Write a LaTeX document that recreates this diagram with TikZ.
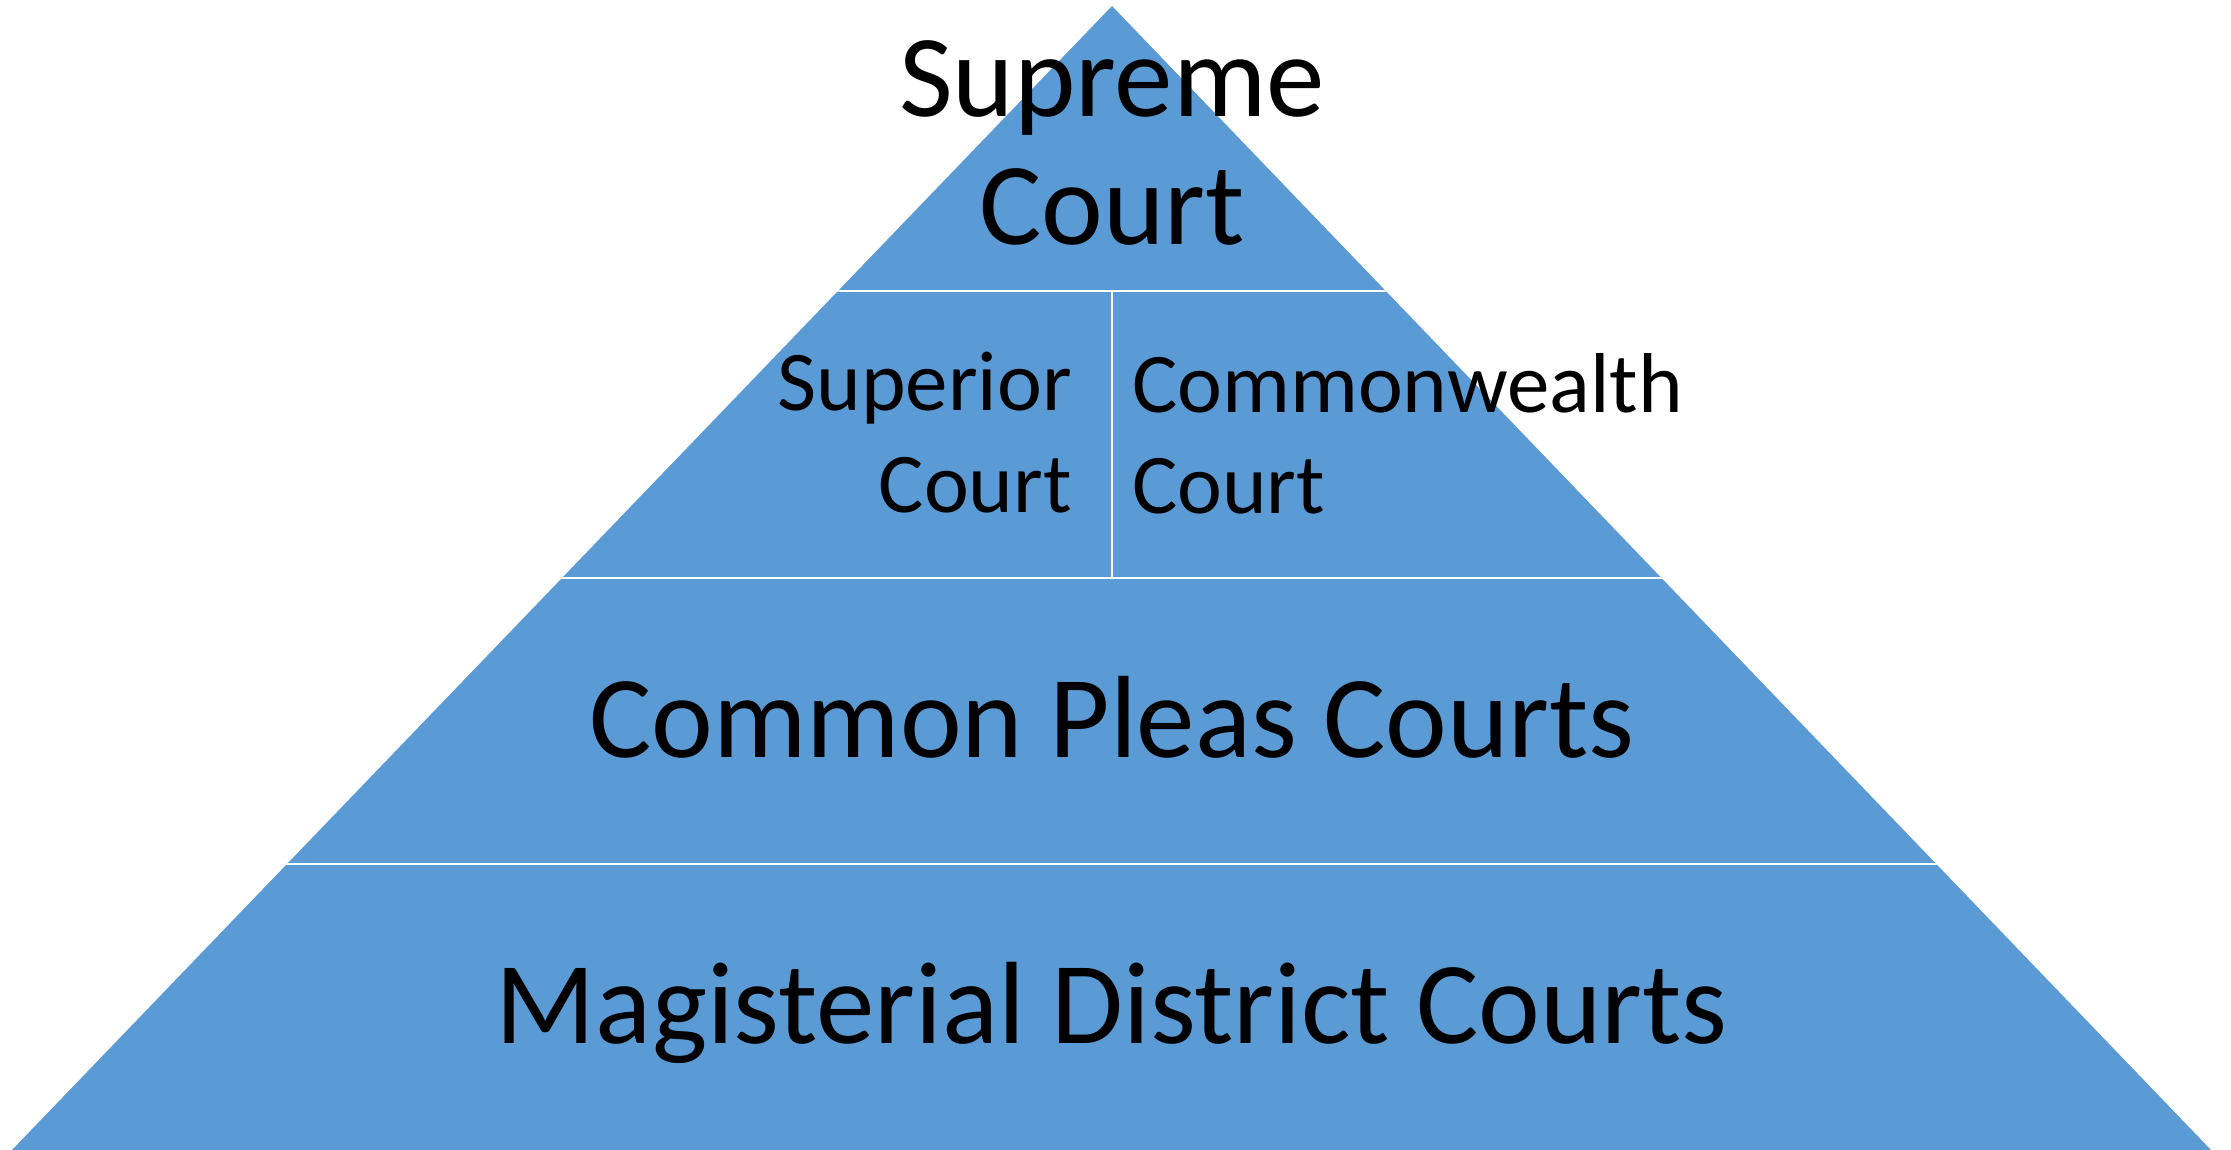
\documentclass[tikz,border=0pt]{standalone}
\usepackage{fontspec}
\setmainfont{Carlito}
\definecolor{pyrblue}{HTML}{5B9BD5}
\begin{document}
\begin{tikzpicture}[x=1pt,y=-1pt,
  big/.style={inner sep=0pt,font=\fontsize{117}{128}\selectfont,text=black},
  small/.style={inner sep=0pt,font=\fontsize{85}{101}\selectfont,text=black},
  sep/.style={draw=white,line width=2.5pt}]
\useasboundingbox (0,0) rectangle (2231,1150);
\coordinate (apex) at (1112,6);
\coordinate (bl) at (12,1150);
\coordinate (br) at (2211,1150);
\fill[pyrblue] (apex) -- (br) -- (bl) -- cycle;
\begin{scope}
\clip (apex) -- (br) -- (bl) -- cycle;
\coordinate (l1) at (0,291); \coordinate (r1) at (2231,291);
\coordinate (l2) at (0,578); \coordinate (r2) at (2231,578);
\coordinate (l3) at (0,864); \coordinate (r3) at (2231,864);
\coordinate (vt) at (1112,291); \coordinate (vb) at (1112,578);
\draw[sep] (l1) -- (r1);
\draw[sep] (l2) -- (r2);
\draw[sep] (l3) -- (r3);
\draw[sep] (vt) -- (vb);
\end{scope}
\node[big,anchor=base] (sup1) at (1112,117) {Supreme};
\node[big,anchor=base] (sup2) at (1112,245) {Court};
\node[small,anchor=base east] (spr1) at (1072,410) {Superior};
\node[small,anchor=base east] (spr2) at (1072,512) {Court};
\node[small,anchor=base west] (cw1) at (1132,412) {Commonwealth};
\node[small,anchor=base west] (cw2) at (1132,513) {Court};
\node[big,anchor=base] (cp) at (1112,757) {Common Pleas Courts};
\node[big,anchor=base] (md) at (1112,1043) {Magisterial District Courts};
\end{tikzpicture}
\end{document}
